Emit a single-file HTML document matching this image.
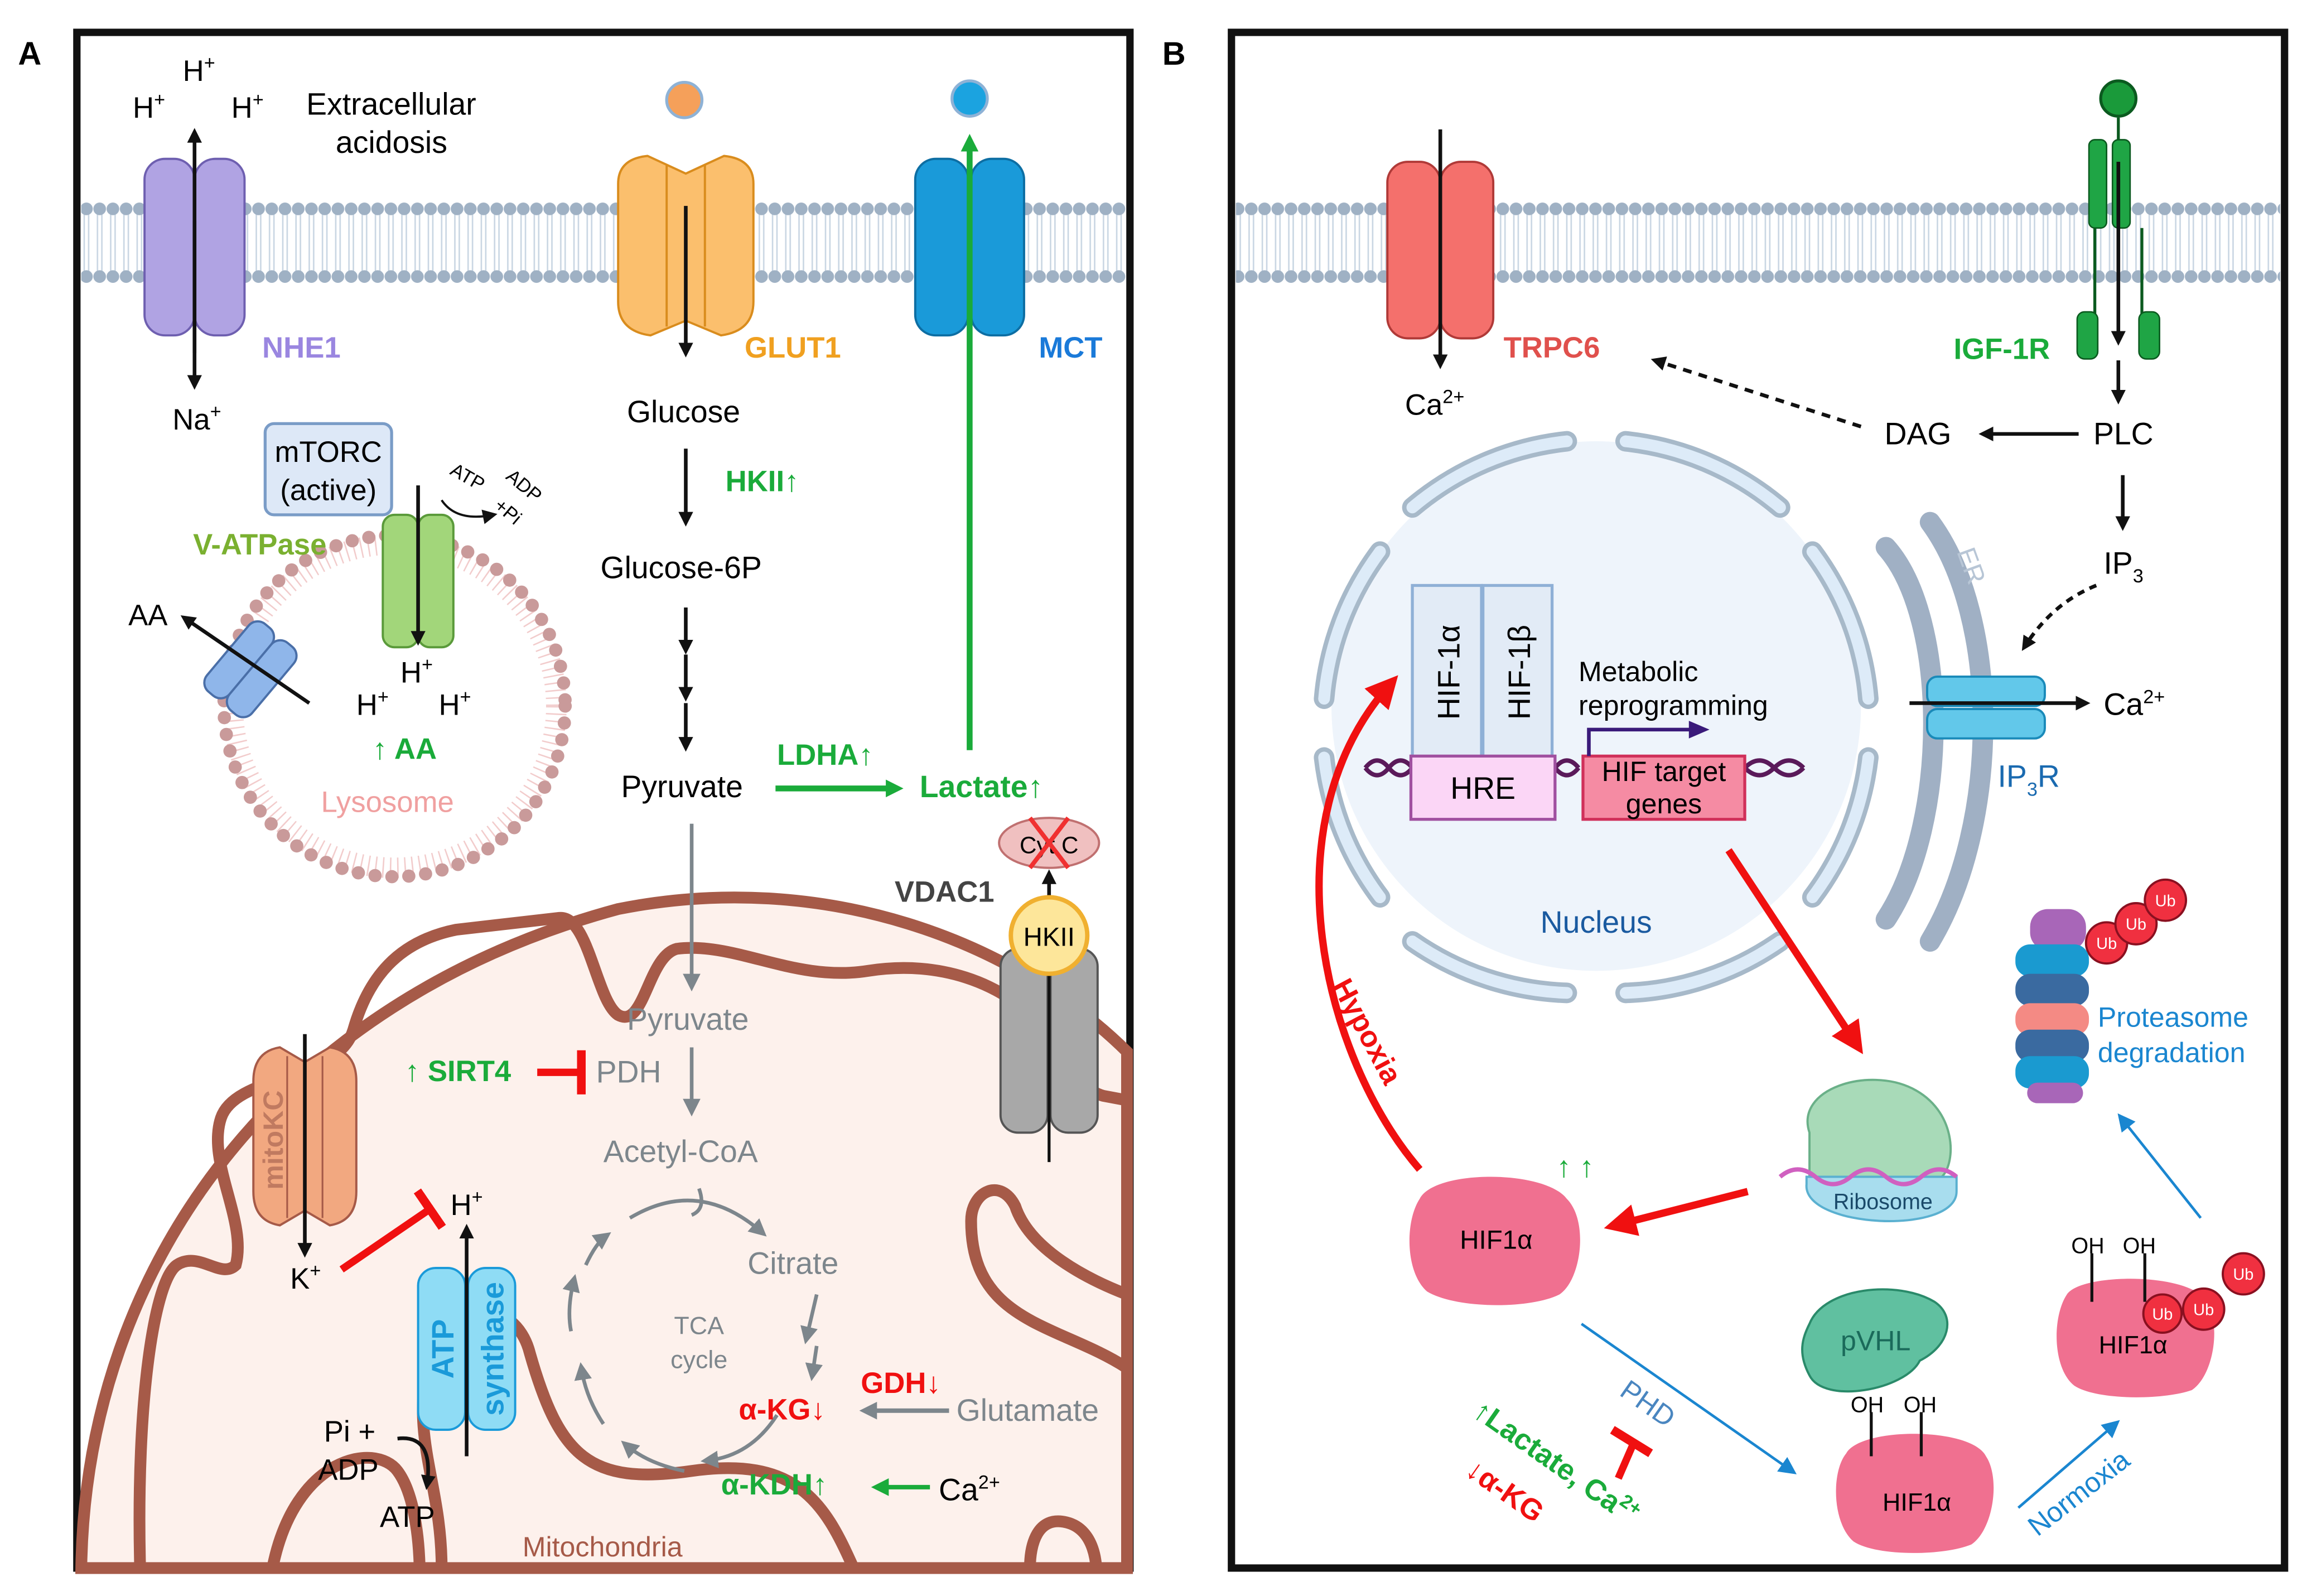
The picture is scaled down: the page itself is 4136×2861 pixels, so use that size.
<!DOCTYPE html>
<html><head><meta charset="utf-8"><style>
html,body{margin:0;padding:0;background:#fff;}
svg{display:block;}
text{font-family:"Liberation Sans",sans-serif;}
</style></head><body>
<svg width="4136" height="2861" viewBox="0 0 1568 1085" xmlns="http://www.w3.org/2000/svg">
<defs>
<pattern id="mem" x="0" y="133" width="9" height="64" patternUnits="userSpaceOnUse">
<line x1="3" y1="10" x2="3" y2="54" stroke="#c9d6e3" stroke-width="1"/>
<line x1="6" y1="10" x2="6" y2="54" stroke="#c9d6e3" stroke-width="1"/>
<circle cx="4.5" cy="9" r="4.3" fill="#9fb1c4"/>
<circle cx="4.5" cy="55" r="4.3" fill="#9fb1c4"/>
</pattern>
<marker id="ak" markerWidth="10" markerHeight="10" refX="7" refY="5" orient="auto" markerUnits="userSpaceOnUse"><path d="M0,0 L10,5 L0,10 z" fill="#111"/></marker>
<marker id="ag" markerWidth="12" markerHeight="12" refX="8" refY="6" orient="auto" markerUnits="userSpaceOnUse"><path d="M0,0 L12,6 L0,12 z" fill="#1aab3a"/></marker>
<marker id="agr" markerWidth="12" markerHeight="12" refX="8" refY="6" orient="auto" markerUnits="userSpaceOnUse"><path d="M0,0 L12,6 L0,12 z" fill="#7d868c"/></marker>
<marker id="ar" markerWidth="22" markerHeight="22" refX="14" refY="11" orient="auto" markerUnits="userSpaceOnUse"><path d="M0,0 L22,11 L0,22 z" fill="#f01010"/></marker>
<marker id="ab" markerWidth="12" markerHeight="12" refX="8" refY="6" orient="auto" markerUnits="userSpaceOnUse"><path d="M0,0 L12,6 L0,12 z" fill="#1a86d0"/></marker>
<marker id="tr" markerWidth="6" markerHeight="30" refX="3" refY="15" orient="auto" markerUnits="userSpaceOnUse"><rect x="0" y="0" width="6" height="30" fill="#f01010"/></marker>
</defs>

<rect x="52" y="22" width="716" height="1044" fill="#fff" stroke="#111" stroke-width="5"/>
<rect x="837" y="22" width="716" height="1044" fill="#fff" stroke="#111" stroke-width="5"/>
<text x="12" y="44" font-size="22" font-weight="bold">A</text>
<text x="790" y="44" font-size="22" font-weight="bold">B</text>

<rect x="55" y="133" width="710" height="64" fill="url(#mem)"/>
<rect x="840" y="133" width="710" height="64" fill="url(#mem)"/>

<!-- Mitochondria -->
<path d="M55,1066 C58,860 190,680 420,618 C560,590 690,640 766,715 L766,1066 Z" fill="#fdf1ec" stroke="#a65a48" stroke-width="8"/>
<path d="M95,1066 C92,950 105,870 120,860 C135,850 150,870 160,860 C168,830 140,790 150,760 C160,730 230,735 240,700 C250,665 270,640 310,632 L380,624 C400,622 405,680 420,690 C438,700 440,650 460,645 C500,640 540,668 590,660 C640,652 680,670 700,690 C720,710 730,740 750,745 L766,748" fill="none" stroke="#a65a48" stroke-width="8"/>
<path d="M766,880 C740,870 700,850 690,820 C680,800 660,810 660,830 C660,900 720,900 766,930" fill="none" stroke="#a65a48" stroke-width="8"/>
<path d="M185,1066 C200,990 255,980 270,1000 C285,1020 285,1066 285,1066 M300,1066 C300,1010 280,980 290,930 C300,880 350,880 360,920 C380,990 400,1010 470,1000 C540,990 560,1020 580,1066 M700,1066 C700,1050 705,1030 725,1035 C745,1040 745,1066 745,1066" fill="none" stroke="#a65a48" stroke-width="8"/>
<text x="355" y="1058" font-size="19" fill="#a65a48">Mitochondria</text>

<!-- NHE1 -->
<rect x="98" y="108" width="34" height="120" rx="14" fill="#b0a3e3" stroke="#6e5fb0" stroke-width="1.5"/>
<rect x="132" y="108" width="34" height="120" rx="14" fill="#b0a3e3" stroke="#6e5fb0" stroke-width="1.5"/>
<line x1="132" y1="240" x2="132" y2="90" stroke="#111" stroke-width="2.5" marker-end="url(#ak)"/>
<line x1="132" y1="150" x2="132" y2="262" stroke="#111" stroke-width="2.5" marker-end="url(#ak)"/>
<text x="90" y="80" font-size="20">H<tspan font-size="13" dy="-8">+</tspan></text>
<text x="124" y="55" font-size="20">H<tspan font-size="13" dy="-8">+</tspan></text>
<text x="157" y="80" font-size="20">H<tspan font-size="13" dy="-8">+</tspan></text>
<text x="208" y="78" font-size="21">Extracellular</text>
<text x="228" y="104" font-size="21">acidosis</text>
<text x="178" y="243" font-size="20" font-weight="bold" fill="#9a86e0">NHE1</text>
<text x="117" y="292" font-size="20">Na<tspan font-size="13" dy="-8">+</tspan></text>

<!-- GLUT1 -->
<path d="M420,125 Q420,108 440,106 L466,118 L492,106 Q512,108 512,125 L512,205 Q512,225 490,228 L466,218 L442,228 Q420,225 420,205 Z" fill="#fbbf6d" stroke="#d98c1d" stroke-width="1.5"/>
<line x1="453" y1="112" x2="453" y2="222" stroke="#d98c1d" stroke-width="1.5"/>
<line x1="479" y1="112" x2="479" y2="222" stroke="#d98c1d" stroke-width="1.5"/>
<circle cx="465" cy="68" r="12" fill="#f5a05a" stroke="#8eb2d6" stroke-width="2"/>
<line x1="466" y1="140" x2="466" y2="240" stroke="#111" stroke-width="2.5" marker-end="url(#ak)"/>
<text x="506" y="243" font-size="20" font-weight="bold" fill="#f0a020">GLUT1</text>
<text x="426" y="287" font-size="21">Glucose</text>
<line x1="466" y1="305" x2="466" y2="355" stroke="#111" stroke-width="2.5" marker-end="url(#ak)"/>
<text x="493" y="334" font-size="20" font-weight="bold" fill="#1aab3a">HKII↑</text>
<text x="408" y="393" font-size="21">Glucose-6P</text>
<line x1="466" y1="413" x2="466" y2="442" stroke="#111" stroke-width="2.5" marker-end="url(#ak)"/>
<line x1="466" y1="445" x2="466" y2="474" stroke="#111" stroke-width="2.5" marker-end="url(#ak)"/>
<line x1="466" y1="478" x2="466" y2="508" stroke="#111" stroke-width="2.5" marker-end="url(#ak)"/>
<text x="422" y="542" font-size="21">Pyruvate</text>
<line x1="527" y1="536" x2="610" y2="536" stroke="#1aab3a" stroke-width="4" marker-end="url(#ag)"/>
<text x="528" y="520" font-size="20" font-weight="bold" fill="#1aab3a">LDHA↑</text>
<text x="625" y="542" font-size="21" font-weight="bold" fill="#1aab3a">Lactate↑</text>

<!-- MCT -->
<rect x="622" y="108" width="36" height="120" rx="14" fill="#1a9ad9" stroke="#0d6ea3" stroke-width="1.5"/>
<rect x="660" y="108" width="36" height="120" rx="14" fill="#1a9ad9" stroke="#0d6ea3" stroke-width="1.5"/>
<circle cx="659" cy="67" r="12" fill="#1ba3e0" stroke="#8eb2d6" stroke-width="2"/>
<line x1="659" y1="510" x2="659" y2="95" stroke="#1aab3a" stroke-width="4" marker-end="url(#ag)"/>
<text x="706" y="243" font-size="20" font-weight="bold" fill="#1a7ad9">MCT</text>

<!-- lysosome etc -->
<circle cx="268" cy="480" r="110" fill="none" stroke="#f2cccc" stroke-width="14" stroke-dasharray="1 4"/>
<circle cx="268" cy="480" r="116" fill="none" stroke="#c99a9a" stroke-width="9" stroke-dasharray="0 11.5" stroke-linecap="round"/>
<rect x="180" y="288" width="86" height="62" rx="6" fill="#dde8f7" stroke="#7a9cc7" stroke-width="2"/>
<text x="223" y="314" font-size="20" text-anchor="middle">mTORC</text>
<text x="223" y="340" font-size="20" text-anchor="middle">(active)</text>
<rect x="260" y="350" width="24" height="90" rx="8" fill="#a2d67a" stroke="#5a9a3a" stroke-width="1.5"/>
<rect x="284" y="350" width="24" height="90" rx="8" fill="#a2d67a" stroke="#5a9a3a" stroke-width="1.5"/>
<line x1="284" y1="330" x2="284" y2="436" stroke="#111" stroke-width="2.5" marker-end="url(#ak)"/>
<path d="M300,340 Q310,355 335,350" fill="none" stroke="#111" stroke-width="1.5" marker-end="url(#ak)"/>
<text x="305" y="322" font-size="13" transform="rotate(30 305 322)">ATP</text>
<text x="343" y="325" font-size="13" transform="rotate(40 343 325)">ADP</text>
<text x="335" y="345" font-size="13" transform="rotate(40 335 345)">+Pi</text>
<text x="131" y="377" font-size="20" font-weight="bold" fill="#7ab030">V-ATPase</text>
<g transform="rotate(-50 170 455)">
<rect x="140" y="435" width="60" height="20" rx="8" fill="#8fb6ea" stroke="#4a6fa8" stroke-width="1.5"/>
<rect x="140" y="455" width="60" height="20" rx="8" fill="#8fb6ea" stroke="#4a6fa8" stroke-width="1.5"/>
</g>
<line x1="210" y1="478" x2="125" y2="420" stroke="#111" stroke-width="2.5" marker-end="url(#ak)"/>
<text x="87" y="425" font-size="20">AA</text>
<text x="242" y="486" font-size="20">H<tspan font-size="13" dy="-8">+</tspan></text>
<text x="272" y="464" font-size="20">H<tspan font-size="13" dy="-8">+</tspan></text>
<text x="298" y="486" font-size="20">H<tspan font-size="13" dy="-8">+</tspan></text>
<text x="253" y="516" font-size="20" font-weight="bold" fill="#1aab3a">↑ AA</text>
<text x="218" y="552" font-size="20" fill="#f0a0a0">Lysosome</text>

<!-- Cyt C / HKII / VDAC1 -->
<ellipse cx="713" cy="573" rx="34" ry="17" fill="#f0c0c0" stroke="#c07070" stroke-width="1.5"/>
<text x="713" y="580" font-size="16" text-anchor="middle">Cyt C</text>
<line x1="700" y1="556" x2="726" y2="590" stroke="#f03030" stroke-width="3"/>
<line x1="726" y1="556" x2="700" y2="590" stroke="#f03030" stroke-width="3"/>
<line x1="713" y1="614" x2="713" y2="594" stroke="#111" stroke-width="2.5" marker-end="url(#ak)"/>
<text x="608" y="613" font-size="20" font-weight="bold" fill="#444">VDAC1</text>
<rect x="680" y="645" width="32" height="125" rx="12" fill="#a8a8a8" stroke="#555" stroke-width="1.5"/>
<rect x="714" y="645" width="32" height="125" rx="12" fill="#a8a8a8" stroke="#555" stroke-width="1.5"/>
<line x1="713" y1="650" x2="713" y2="790" stroke="#111" stroke-width="2"/>
<circle cx="713" cy="636" r="26" fill="#fde69a" stroke="#f0b030" stroke-width="3"/>
<text x="713" y="643" font-size="18" text-anchor="middle">HKII</text>

<!-- Mito interior -->
<line x1="470" y1="560" x2="470" y2="670" stroke="#7d868c" stroke-width="2.5" marker-end="url(#agr)"/>
<text x="426" y="700" font-size="21" fill="#7d868c">Pyruvate</text>
<text x="275" y="735" font-size="20" font-weight="bold" fill="#1aab3a">↑ SIRT4</text>
<line x1="365" y1="729" x2="395" y2="729" stroke="#f01010" stroke-width="5" marker-end="url(#tr)"/>
<text x="405" y="736" font-size="21" fill="#7d868c">PDH</text>
<line x1="470" y1="712" x2="470" y2="755" stroke="#7d868c" stroke-width="2.5" marker-end="url(#agr)"/>
<text x="410" y="790" font-size="21" fill="#7d868c">Acetyl-CoA</text>
<text x="508" y="866" font-size="21" fill="#7d868c">Citrate</text>
<text x="475" y="907" font-size="17" fill="#7d868c" text-anchor="middle">TCA</text>
<text x="475" y="930" font-size="17" fill="#7d868c" text-anchor="middle">cycle</text>
<path d="M475,808 Q480,822 470,826" fill="none" stroke="#7d868c" stroke-width="2.5"/>
<path d="M428,828 Q475,800 518,838" fill="none" stroke="#7d868c" stroke-width="2.5" marker-end="url(#agr)"/>
<path d="M555,880 L548,910" stroke="#7d868c" stroke-width="2.5" marker-end="url(#agr)"/>
<path d="M555,915 L552,935" stroke="#7d868c" stroke-width="2.5" marker-end="url(#agr)"/>
<path d="M528,962 Q510,990 480,993" fill="none" stroke="#7d868c" stroke-width="2.5" marker-end="url(#agr)"/>
<path d="M465,1000 Q440,995 425,982" fill="none" stroke="#7d868c" stroke-width="2.5" marker-end="url(#agr)"/>
<path d="M410,968 Q398,950 395,930" fill="none" stroke="#7d868c" stroke-width="2.5" marker-end="url(#agr)"/>
<path d="M388,905 Q385,890 390,870" fill="none" stroke="#7d868c" stroke-width="2.5" marker-end="url(#agr)"/>
<path d="M398,860 Q405,845 412,840" fill="none" stroke="#7d868c" stroke-width="2.5" marker-end="url(#agr)"/>
<text x="502" y="965" font-size="20" font-weight="bold" fill="#f01010">α-KG↓</text>
<text x="585" y="947" font-size="20" font-weight="bold" fill="#f01010">GDH↓</text>
<line x1="645" y1="959" x2="588" y2="959" stroke="#7d868c" stroke-width="3" marker-end="url(#agr)"/>
<text x="650" y="966" font-size="21" fill="#7d868c">Glutamate</text>
<text x="490" y="1016" font-size="20" font-weight="bold" fill="#1aab3a">α-KDH↑</text>
<line x1="632" y1="1011" x2="596" y2="1011" stroke="#1aab3a" stroke-width="3" marker-end="url(#ag)"/>
<text x="638" y="1020" font-size="21">Ca<tspan font-size="13" dy="-8">2+</tspan></text>

<!-- mitoKC -->
<path d="M172,735 Q172,715 190,712 L207,722 L224,712 Q242,715 242,735 L242,810 Q242,830 224,833 L207,823 L190,833 Q172,830 172,810 Z" fill="#f2a880" stroke="#a65a48" stroke-width="1.5"/>
<line x1="195" y1="718" x2="195" y2="828" stroke="#a65a48" stroke-width="1.2"/>
<line x1="219" y1="718" x2="219" y2="828" stroke="#a65a48" stroke-width="1.2"/>
<text x="192" y="775" font-size="19" font-weight="bold" fill="#c07a60" text-anchor="middle" transform="rotate(-90 192 775)">mitoKC</text>
<line x1="207" y1="703" x2="207" y2="852" stroke="#111" stroke-width="2.5" marker-end="url(#ak)"/>
<text x="197" y="876" font-size="20">K<tspan font-size="13" dy="-8">+</tspan></text>
<line x1="232" y1="863" x2="292" y2="822" stroke="#f01010" stroke-width="5" marker-end="url(#tr)"/>
<text x="306" y="826" font-size="20">H<tspan font-size="13" dy="-8">+</tspan></text>

<!-- ATP synthase -->
<rect x="284" y="862" width="32" height="110" rx="12" fill="#8fdcf5" stroke="#1a9ad9" stroke-width="1.5"/>
<rect x="318" y="862" width="32" height="110" rx="12" fill="#8fdcf5" stroke="#1a9ad9" stroke-width="1.5"/>
<text x="308" y="917" font-size="21" font-weight="bold" fill="#1a9ad9" text-anchor="middle" transform="rotate(-90 308 917)">ATP</text>
<text x="342" y="917" font-size="21" font-weight="bold" fill="#1a9ad9" text-anchor="middle" transform="rotate(-90 342 917)">synthase</text>
<line x1="317" y1="990" x2="317" y2="835" stroke="#111" stroke-width="2.5" marker-end="url(#ak)"/>
<text x="220" y="980" font-size="20">Pi +</text>
<text x="216" y="1006" font-size="20">ADP</text>
<path d="M270,978 Q295,975 290,1010" fill="none" stroke="#111" stroke-width="2.5" marker-end="url(#ak)"/>
<text x="258" y="1038" font-size="20">ATP</text>

<!-- ===== Panel B ===== -->
<rect x="943" y="110" width="36" height="120" rx="14" fill="#f4706c" stroke="#b03a38" stroke-width="1.5"/>
<rect x="979" y="110" width="36" height="120" rx="14" fill="#f4706c" stroke="#b03a38" stroke-width="1.5"/>
<line x1="979" y1="88" x2="979" y2="248" stroke="#111" stroke-width="2.5" marker-end="url(#ak)"/>
<text x="955" y="282" font-size="20">Ca<tspan font-size="13" dy="-8">2+</tspan></text>
<text x="1022" y="243" font-size="20" font-weight="bold" fill="#e0504c">TRPC6</text>

<circle cx="1440" cy="67" r="12" fill="#1a9a3a" stroke="#0b5a1f" stroke-width="2"/>
<line x1="1440" y1="80" x2="1440" y2="95" stroke="#0b5a1f" stroke-width="2"/>
<rect x="1420" y="95" width="12" height="60" rx="4" fill="#1fa545" stroke="#0b5a1f"/>
<rect x="1436" y="95" width="12" height="60" rx="4" fill="#1fa545" stroke="#0b5a1f"/>
<line x1="1424" y1="155" x2="1424" y2="215" stroke="#0b5a1f" stroke-width="2"/>
<line x1="1456" y1="155" x2="1456" y2="215" stroke="#0b5a1f" stroke-width="2"/>
<rect x="1412" y="212" width="14" height="32" rx="5" fill="#1fa545" stroke="#0b5a1f"/>
<rect x="1454" y="212" width="14" height="32" rx="5" fill="#1fa545" stroke="#0b5a1f"/>
<line x1="1440" y1="110" x2="1440" y2="232" stroke="#111" stroke-width="2.5" marker-end="url(#ak)"/>
<line x1="1440" y1="245" x2="1440" y2="272" stroke="#111" stroke-width="2.5" marker-end="url(#ak)"/>
<text x="1328" y="244" font-size="20" font-weight="bold" fill="#1aab3a">IGF-1R</text>
<text x="1423" y="302" font-size="21">PLC</text>
<line x1="1413" y1="295" x2="1348" y2="295" stroke="#111" stroke-width="2.5" marker-end="url(#ak)"/>
<text x="1281" y="302" font-size="21">DAG</text>
<line x1="1265" y1="290" x2="1125" y2="245" stroke="#111" stroke-width="2.5" stroke-dasharray="6 5" marker-end="url(#ak)"/>
<line x1="1443" y1="323" x2="1443" y2="358" stroke="#111" stroke-width="2.5" marker-end="url(#ak)"/>
<text x="1430" y="390" font-size="21">IP<tspan font-size="13" dy="6">3</tspan></text>
<path d="M1425,398 Q1395,410 1376,440" fill="none" stroke="#111" stroke-width="2.5" stroke-dasharray="5 4" marker-end="url(#ak)"/>

<circle cx="1085" cy="480" r="180" fill="#eef4fb"/>
<g fill="none" stroke-linecap="round">
<g stroke="#a7b9c9" stroke-width="14">
<path d="M960,345 A195,195 0 0 1 1065,300"/><path d="M1105,300 A195,195 0 0 1 1210,345"/>
<path d="M1232,375 A195,195 0 0 1 1270,475"/><path d="M1270,515 A195,195 0 0 1 1232,610"/>
<path d="M1210,640 A195,195 0 0 1 1105,675"/><path d="M1065,675 A195,195 0 0 1 960,640"/>
<path d="M938,610 A195,195 0 0 1 900,515"/><path d="M900,475 A195,195 0 0 1 938,375"/>
</g>
<g stroke="#ddebf8" stroke-width="8">
<path d="M960,345 A195,195 0 0 1 1065,300"/><path d="M1105,300 A195,195 0 0 1 1210,345"/>
<path d="M1232,375 A195,195 0 0 1 1270,475"/><path d="M1270,515 A195,195 0 0 1 1232,610"/>
<path d="M1210,640 A195,195 0 0 1 1105,675"/><path d="M1065,675 A195,195 0 0 1 960,640"/>
<path d="M938,610 A195,195 0 0 1 900,515"/><path d="M900,475 A195,195 0 0 1 938,375"/>
</g>
</g>
<text x="1085" y="634" font-size="21" fill="#1a5aa0" text-anchor="middle">Nucleus</text>
<g fill="none" stroke="#a0b0c4" stroke-width="14" stroke-linecap="round">
<path d="M1282,372 C1325,420 1325,560 1282,625"/>
<path d="M1312,355 C1360,420 1360,560 1312,640"/>
</g>
<text x="1330" y="375" font-size="18" fill="#b8c6d6" transform="rotate(70 1330 375)">ER</text>
<rect x="1310" y="460" width="80" height="20" rx="7" fill="#62c8ea" stroke="#1a8ab9" stroke-width="1.5"/>
<rect x="1310" y="482" width="80" height="20" rx="7" fill="#62c8ea" stroke="#1a8ab9" stroke-width="1.5"/>
<line x1="1298" y1="478" x2="1418" y2="478" stroke="#111" stroke-width="2.5" marker-end="url(#ak)"/>
<text x="1430" y="486" font-size="21">Ca<tspan font-size="13" dy="-8">2+</tspan></text>
<text x="1358" y="535" font-size="21" fill="#1a6ab0">IP<tspan font-size="13" dy="6">3</tspan><tspan dy="-6">R</tspan></text>

<rect x="960" y="398" width="47" height="118" fill="#e2ebf6" stroke="#8fb0d6" stroke-width="2"/>
<rect x="1008" y="398" width="47" height="118" fill="#e2ebf6" stroke="#8fb0d6" stroke-width="2"/>
<text x="992" y="457" font-size="21" text-anchor="middle" transform="rotate(-90 992 457)">HIF-1α</text>
<text x="1040" y="457" font-size="21" text-anchor="middle" transform="rotate(-90 1040 457)">HIF-1β</text>
<path d="M928,522 q8,-10 16,0 t16,0 M928,522 q8,10 16,0 t16,0 M1057,522 q8,-10 16,0 M1057,522 q8,10 16,0 M1186,522 q10,-10 20,0 t20,0 M1186,522 q10,10 20,0 t20,0" fill="none" stroke="#5a1a5a" stroke-width="3"/>
<rect x="959" y="514" width="98" height="43" fill="#fbd6f6" stroke="#a050a0" stroke-width="2"/>
<text x="1008" y="543" font-size="21" text-anchor="middle">HRE</text>
<rect x="1076" y="514" width="110" height="43" fill="#f58ba3" stroke="#d0305a" stroke-width="2"/>
<text x="1131" y="531" font-size="19" text-anchor="middle">HIF target</text>
<text x="1131" y="553" font-size="19" text-anchor="middle">genes</text>
<path d="M1080,514 L1080,496 L1150,496" fill="none" stroke="#3a1a7a" stroke-width="2.5"/>
<path d="M1148,490 L1162,496 L1148,502 z" fill="#3a1a7a"/>
<text x="1073" y="463" font-size="19">Metabolic</text>
<text x="1073" y="486" font-size="19">reprogramming</text>

<path d="M965,795 C900,720 860,560 945,465" fill="none" stroke="#f01010" stroke-width="5" marker-end="url(#ar)"/>
<text x="905" y="670" font-size="20" font-weight="bold" fill="#f01010" transform="rotate(62 905 670)">Hypoxia</text>
<line x1="1175" y1="578" x2="1262" y2="710" stroke="#f01010" stroke-width="5" marker-end="url(#ar)"/>
<line x1="1188" y1="810" x2="1098" y2="833" stroke="#f01010" stroke-width="5" marker-end="url(#ar)"/>

<path d="M1230,770 C1220,740 1270,725 1300,740 C1330,755 1330,790 1320,800 L1230,800 Z" fill="#a8dab8" stroke="#6ab088" stroke-width="1.5"/>
<path d="M1228,805 C1225,835 1330,840 1330,810 L1330,800 L1228,800 Z" fill="#a8ddee" stroke="#5ab0d0" stroke-width="1.5"/>
<path d="M1210,800 q12,-10 24,0 t24,0 t24,0 t24,0 t24,0" fill="none" stroke="#d060c0" stroke-width="3"/>
<text x="1280" y="822" font-size="15" text-anchor="middle" fill="#1a4a6a">Ribosome</text>

<g fill="#f07090">
<path d="M965,815 C975,795 1050,795 1065,815 C1080,830 1075,870 1060,880 C1040,890 990,890 970,878 C955,865 955,830 965,815 Z"/>
<path d="M1255,988 C1265,970 1340,970 1350,990 C1360,1005 1355,1040 1340,1050 C1320,1058 1275,1058 1260,1048 C1245,1035 1245,1000 1255,988 Z"/>
<path d="M1405,880 C1415,865 1490,865 1500,885 C1510,900 1505,935 1490,945 C1470,952 1425,952 1410,942 C1395,930 1395,895 1405,880 Z"/>
</g>
<text x="1017" y="849" font-size="18" text-anchor="middle">HIF1α</text>
<text x="1303" y="1027" font-size="17" text-anchor="middle">HIF1α</text>
<text x="1450" y="920" font-size="17" text-anchor="middle">HIF1α</text>
<text x="1058" y="800" font-size="20" fill="#1aab3a">↑ ↑</text>
<line x1="1272" y1="960" x2="1272" y2="990" stroke="#111" stroke-width="2"/>
<line x1="1306" y1="960" x2="1306" y2="990" stroke="#111" stroke-width="2"/>
<text x="1258" y="960" font-size="15">OH</text><text x="1294" y="960" font-size="15">OH</text>
<line x1="1422" y1="852" x2="1422" y2="885" stroke="#111" stroke-width="2"/>
<line x1="1458" y1="852" x2="1458" y2="885" stroke="#111" stroke-width="2"/>
<text x="1408" y="852" font-size="15">OH</text><text x="1443" y="852" font-size="15">OH</text>
<path d="M1230,900 C1240,875 1290,870 1315,885 C1330,895 1325,915 1305,925 C1295,945 1240,955 1230,935 C1222,920 1225,910 1230,900 Z" fill="#60c0a0" stroke="#2a8a6a" stroke-width="1.5"/>
<text x="1275" y="918" font-size="19" text-anchor="middle" fill="#1a6a5a">pVHL</text>
<g fill="#f03040" stroke="#8a1020" stroke-width="1.5">
<circle cx="1498" cy="890" r="14"/><circle cx="1525" cy="866" r="14"/><circle cx="1470" cy="893" r="13"/>
<circle cx="1432" cy="641" r="14"/><circle cx="1452" cy="628" r="14"/><circle cx="1472" cy="612" r="14"/>
</g>
<g font-size="11" fill="#fff" text-anchor="middle">
<text x="1470" y="897">Ub</text><text x="1498" y="894">Ub</text><text x="1525" y="870">Ub</text>
<text x="1432" y="645">Ub</text><text x="1452" y="632">Ub</text><text x="1472" y="616">Ub</text>
</g>
<rect x="1380" y="618" width="38" height="28" rx="12" fill="#a866b8"/>
<rect x="1370" y="642" width="50" height="22" rx="10" fill="#1a9ad0"/>
<rect x="1370" y="662" width="50" height="22" rx="10" fill="#3a6aa0"/>
<rect x="1370" y="682" width="50" height="22" rx="10" fill="#f48a84"/>
<rect x="1370" y="700" width="50" height="22" rx="10" fill="#3a6aa0"/>
<rect x="1370" y="718" width="50" height="22" rx="10" fill="#1a9ad0"/>
<rect x="1378" y="736" width="38" height="14" rx="7" fill="#a866b8"/>
<text x="1426" y="698" font-size="19" fill="#1a86d0">Proteasome</text>
<text x="1426" y="722" font-size="19" fill="#1a86d0">degradation</text>
<line x1="1496" y1="828" x2="1442" y2="760" stroke="#1a86d0" stroke-width="1.8" marker-end="url(#ab)"/>

<line x1="1075" y1="900" x2="1218" y2="1000" stroke="#1a86d0" stroke-width="1.8" marker-end="url(#ab)"/>
<text x="1100" y="948" font-size="19" fill="#4a86c0" transform="rotate(35 1100 948)">PHD</text>
<line x1="1372" y1="1025" x2="1438" y2="968" stroke="#1a86d0" stroke-width="1.8" marker-end="url(#ab)"/>
<text x="1385" y="1045" font-size="19" fill="#1a86d0" transform="rotate(-38 1385 1045)">Normoxia</text>
<line x1="1100" y1="1005" x2="1110" y2="982" stroke="#f01010" stroke-width="5"/>
<line x1="1096" y1="972" x2="1122" y2="988" stroke="#f01010" stroke-width="6"/>
<text x="1000" y="962" font-size="20" font-weight="bold" fill="#1aab3a" transform="rotate(35 1000 962)">↑Lactate, Ca<tspan font-size="13" dy="-8">2+</tspan></text>
<text x="995" y="1002" font-size="20" font-weight="bold" fill="#f01010" transform="rotate(35 995 1002)">↓α-KG</text>
</svg>
</body></html>
